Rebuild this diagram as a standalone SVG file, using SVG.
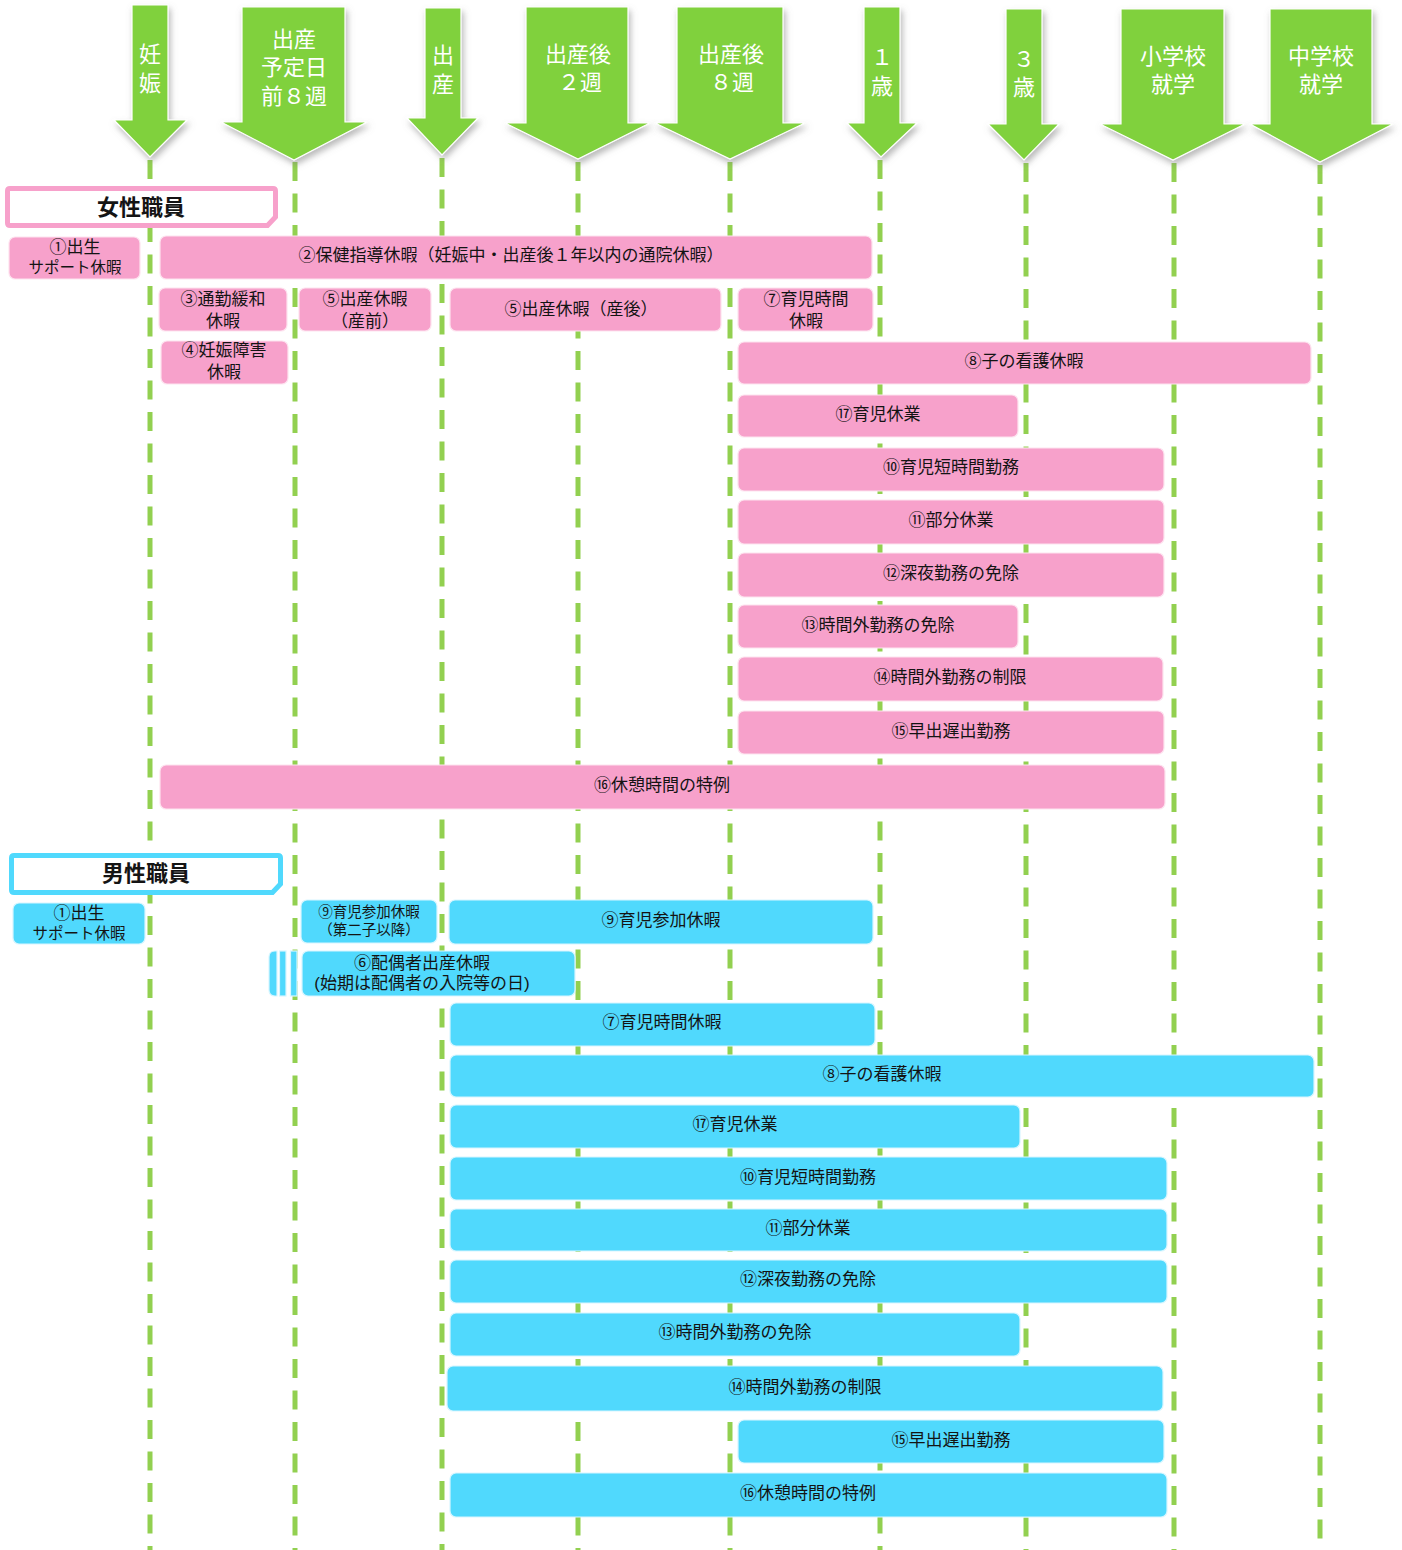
<svg xmlns="http://www.w3.org/2000/svg" width="1402" height="1550" viewBox="0 0 1402 1550">
  <style>
    text { font-family: "Liberation Sans", "Noto Sans CJK JP", sans-serif; fill: #141414; text-anchor: middle; dominant-baseline: central; }
    .arrow { fill: #80d13c; stroke: #ffffff; stroke-width: 1.2; filter: url(#shade); }
    .arrow-label { fill: #ffffff; font-size: 22px; }
    .timeline { stroke: #92d050; stroke-width: 5; stroke-dasharray: 19 12.5; fill: none; }
    .pink { fill: #f7a1cb; stroke: #fde3ef; stroke-width: 1.2; }
    .blue { fill: #50d9fd; stroke: #d7f6ff; stroke-width: 1.2; }
    .lbl { font-size: 17px; }
    .sm { font-size: 15.5px; }
    .xs { font-size: 14.5px; }
    .head { font-size: 22px; font-weight: bold; }
    .head-pink { fill: #ffffff; stroke: #f7a1cb; stroke-width: 5; }
    .head-blue { fill: #ffffff; stroke: #50d9fd; stroke-width: 5; }
  </style>
  <defs>
    <filter id="shade" x="-20%" y="-10%" width="140%" height="130%">
      <feDropShadow dx="2" dy="4" stdDeviation="3" flood-color="#808080" flood-opacity="0.55"/>
    </filter>
  </defs>

  <rect width="1402" height="1550" fill="#ffffff"/>

  <!-- dashed milestone lines -->
  <g id="connectors">
    <line class="timeline" x1="150" y1="160" x2="150" y2="1550"/>
    <line class="timeline" x1="295" y1="162" x2="295" y2="1550"/>
    <line class="timeline" x1="442" y1="158" x2="442" y2="1550"/>
    <line class="timeline" x1="578" y1="162" x2="578" y2="1550"/>
    <line class="timeline" x1="730" y1="162" x2="730" y2="1550"/>
    <line class="timeline" x1="880" y1="160" x2="880" y2="1550"/>
    <line class="timeline" x1="1026" y1="163" x2="1026" y2="1550"/>
    <line class="timeline" x1="1174" y1="163" x2="1174" y2="1550"/>
    <line class="timeline" x1="1320" y1="165" x2="1320" y2="1550"/>
  </g>

  <!-- milestone arrows -->
  <g id="arrow-ninshin">
    <path class="arrow" d="M132,5 H168 V120 H187 L150,157 L114,120 H132 Z"/>
    <text class="arrow-label" x="150" y="53.5"><tspan x="150">妊</tspan><tspan x="150" dy="29">娠</tspan></text>
  </g>
  <g id="arrow-yotei">
    <path class="arrow" d="M242,7 H345 V122 H367 L294,160 L221,122 H242 Z"/>
    <text class="arrow-label" x="294" y="38.5"><tspan x="294">出産</tspan><tspan x="294" dy="28.5">予定日</tspan><tspan x="294" dy="28.5">前８週</tspan></text>
  </g>
  <g id="arrow-shussan">
    <path class="arrow" d="M425,8 H461 V118 H478 L442,155 L407,118 H425 Z"/>
    <text class="arrow-label" x="443" y="54.5"><tspan x="443">出</tspan><tspan x="443" dy="29">産</tspan></text>
  </g>
  <g id="arrow-2w">
    <path class="arrow" d="M526,7 H628 V123 H650 L578,159 L505,123 H526 Z"/>
    <text class="arrow-label" x="578" y="53.5"><tspan x="578">出産後</tspan><tspan x="580" dy="28">２週</tspan></text>
  </g>
  <g id="arrow-8w">
    <path class="arrow" d="M677,7 H783 V123 H805 L730,159 L655,123 H677 Z"/>
    <text class="arrow-label" x="731" y="53.5"><tspan x="731">出産後</tspan><tspan x="732" dy="28">８週</tspan></text>
  </g>
  <g id="arrow-1y">
    <path class="arrow" d="M864,7 H900 V123 H917 L881,157 L847,123 H864 Z"/>
    <text class="arrow-label" x="882" y="56.5"><tspan x="882">１</tspan><tspan x="882" dy="29">歳</tspan></text>
  </g>
  <g id="arrow-3y">
    <path class="arrow" d="M1006,9 H1042 V124 H1059 L1024,160 L988,124 H1006 Z"/>
    <text class="arrow-label" x="1024" y="58.5"><tspan x="1024">３</tspan><tspan x="1024" dy="28">歳</tspan></text>
  </g>
  <g id="arrow-elementary">
    <path class="arrow" d="M1121,9 H1224 V124 H1245 L1173,160 L1100,124 H1121 Z"/>
    <text class="arrow-label" x="1173" y="55.5"><tspan x="1173">小学校</tspan><tspan x="1173" dy="28">就学</tspan></text>
  </g>
  <g id="arrow-junior">
    <path class="arrow" d="M1270,9 H1372 V124 H1393 L1320,162 L1250,124 H1270 Z"/>
    <text class="arrow-label" x="1321" y="55.5"><tspan x="1321">中学校</tspan><tspan x="1321" dy="28">就学</tspan></text>
  </g>

  <!-- female staff section -->
  <g id="header-female">
    <path class="head-pink" d="M10,188.5 H273 Q275.5,188.5 275.5,191 V217 L267.5,225.5 H10 Q7.5,225.5 7.5,223 V191 Q7.5,188.5 10,188.5 Z"/>
    <text class="head" x="141" y="207.5">女性職員</text>
  </g>
  <g id="f01">
    <rect class="pink" x="9" y="237" width="131" height="42" rx="6"/>
    <text x="75" y="246.5"><tspan class="lbl" x="75">①出生</tspan><tspan class="sm" x="75" dy="20">サポート休暇</tspan></text>
  </g>
  <g id="f02">
    <rect class="pink" x="160" y="236" width="712" height="43" rx="6"/>
    <text class="lbl" x="511" y="255.5">②保健指導休暇（妊娠中・出産後１年以内の通院休暇）</text>
  </g>
  <g id="f03">
    <rect class="pink" x="159" y="288" width="128" height="43" rx="6"/>
    <text class="lbl" x="223" y="298.5"><tspan x="223">③通勤緩和</tspan><tspan x="223" dy="22">休暇</tspan></text>
  </g>
  <g id="f05a">
    <rect class="pink" x="299" y="288" width="132" height="43" rx="6"/>
    <text class="lbl" x="365" y="298.5"><tspan x="365">⑤出産休暇</tspan><tspan x="365" dy="22">（産前）</tspan></text>
  </g>
  <g id="f05b">
    <rect class="pink" x="450" y="288" width="271" height="43" rx="6"/>
    <text class="lbl" x="581" y="309.5">⑤出産休暇（産後）</text>
  </g>
  <g id="f07">
    <rect class="pink" x="738" y="288" width="135" height="43" rx="6"/>
    <text class="lbl" x="806" y="298.5"><tspan x="806">⑦育児時間</tspan><tspan x="806" dy="22">休暇</tspan></text>
  </g>
  <g id="f04">
    <rect class="pink" x="161" y="341" width="127" height="43" rx="6"/>
    <text class="lbl" x="224" y="349.5"><tspan x="224">④妊娠障害</tspan><tspan x="224" dy="22">休暇</tspan></text>
  </g>
  <g id="f08">
    <rect class="pink" x="738" y="342" width="573" height="42" rx="6"/>
    <text class="lbl" x="1024" y="361.5">⑧子の看護休暇</text>
  </g>
  <g id="f17">
    <rect class="pink" x="738" y="395" width="280" height="42" rx="6"/>
    <text class="lbl" x="878" y="414.5">⑰育児休業</text>
  </g>
  <g id="f10">
    <rect class="pink" x="738" y="448" width="426" height="43" rx="6"/>
    <text class="lbl" x="951" y="467.5">⑩育児短時間勤務</text>
  </g>
  <g id="f11">
    <rect class="pink" x="738" y="500" width="426" height="44" rx="6"/>
    <text class="lbl" x="951" y="520.5">⑪部分休業</text>
  </g>
  <g id="f12">
    <rect class="pink" x="738" y="553" width="426" height="44" rx="6"/>
    <text class="lbl" x="951" y="573.5">⑫深夜勤務の免除</text>
  </g>
  <g id="f13">
    <rect class="pink" x="738" y="605" width="280" height="43" rx="6"/>
    <text class="lbl" x="878" y="625.5">⑬時間外勤務の免除</text>
  </g>
  <g id="f14">
    <rect class="pink" x="738" y="657" width="425" height="44" rx="6"/>
    <text class="lbl" x="950" y="677.5">⑭時間外勤務の制限</text>
  </g>
  <g id="f15">
    <rect class="pink" x="738" y="711" width="426" height="43" rx="6"/>
    <text class="lbl" x="951" y="731.5">⑮早出遅出勤務</text>
  </g>
  <g id="f16">
    <rect class="pink" x="160" y="765" width="1005" height="44" rx="6"/>
    <text class="lbl" x="662" y="785.5">⑯休憩時間の特例</text>
  </g>

  <!-- male staff section -->
  <g id="header-male">
    <path class="head-blue" d="M14,855.5 H278 Q280.5,855.5 280.5,858 V884 L272.5,892.5 H14 Q11.5,892.5 11.5,890 V858 Q11.5,855.5 14,855.5 Z"/>
    <text class="head" x="146" y="873.5">男性職員</text>
  </g>
  <g id="m01">
    <rect class="blue" x="13" y="903" width="132" height="41" rx="6"/>
    <text x="79" y="912.5"><tspan class="lbl" x="79">①出生</tspan><tspan class="sm" x="79" dy="20">サポート休暇</tspan></text>
  </g>
  <g id="m09a">
    <rect class="blue" x="301" y="900" width="136" height="43" rx="6"/>
    <text class="xs" x="369" y="911.5"><tspan x="369">⑨育児参加休暇</tspan><tspan x="369" dy="18">（第二子以降）</tspan></text>
  </g>
  <g id="m09b">
    <rect class="blue" x="449" y="900" width="424" height="44" rx="6"/>
    <text class="lbl" x="661" y="920.5">⑨育児参加休暇</text>
  </g>
  <g id="m06">
    <path class="blue" d="M277,951 V996 H275 Q269,996 269,990 V957 Q269,951 275,951 Z"/>
    <rect class="blue" x="279.5" y="951" width="6.5" height="45"/>
    <rect class="blue" x="290.5" y="951" width="6.5" height="45"/>
    <rect class="blue" x="302" y="951" width="273" height="45" rx="6"/>
    <text class="lbl" x="422" y="962.5"><tspan x="422">⑥配偶者出産休暇</tspan><tspan x="422" dy="20.5">(始期は配偶者の入院等の日)</tspan></text>
  </g>
  <g id="m07">
    <rect class="blue" x="450" y="1003" width="425" height="43" rx="6"/>
    <text class="lbl" x="662" y="1022.5">⑦育児時間休暇</text>
  </g>
  <g id="m08">
    <rect class="blue" x="450" y="1055" width="864" height="42" rx="6"/>
    <text class="lbl" x="882" y="1074.5">⑧子の看護休暇</text>
  </g>
  <g id="m17">
    <rect class="blue" x="450" y="1105" width="570" height="43" rx="6"/>
    <text class="lbl" x="735" y="1124.5">⑰育児休業</text>
  </g>
  <g id="m10">
    <rect class="blue" x="450" y="1157" width="717" height="43" rx="6"/>
    <text class="lbl" x="808" y="1177.5">⑩育児短時間勤務</text>
  </g>
  <g id="m11">
    <rect class="blue" x="450" y="1209" width="717" height="42" rx="6"/>
    <text class="lbl" x="808" y="1228.5">⑪部分休業</text>
  </g>
  <g id="m12">
    <rect class="blue" x="450" y="1260" width="717" height="43" rx="6"/>
    <text class="lbl" x="808" y="1279.5">⑫深夜勤務の免除</text>
  </g>
  <g id="m13">
    <rect class="blue" x="450" y="1313" width="570" height="43" rx="6"/>
    <text class="lbl" x="735" y="1332.5">⑬時間外勤務の免除</text>
  </g>
  <g id="m14">
    <rect class="blue" x="447" y="1366" width="716" height="45" rx="6"/>
    <text class="lbl" x="805" y="1387.5">⑭時間外勤務の制限</text>
  </g>
  <g id="m15">
    <rect class="blue" x="738" y="1420" width="426" height="43" rx="6"/>
    <text class="lbl" x="951" y="1440.5">⑮早出遅出勤務</text>
  </g>
  <g id="m16">
    <rect class="blue" x="450" y="1473" width="717" height="44" rx="6"/>
    <text class="lbl" x="808" y="1493.5">⑯休憩時間の特例</text>
  </g>
</svg>
